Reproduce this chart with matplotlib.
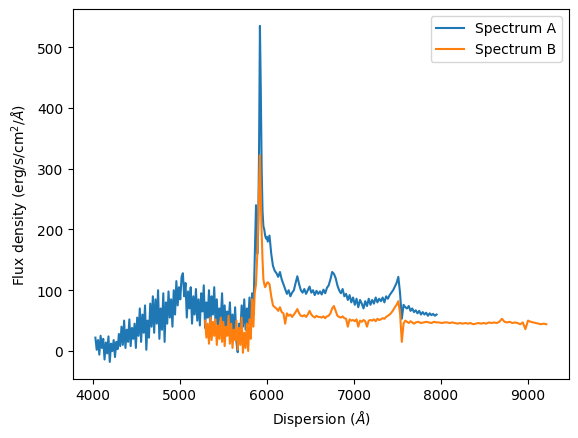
import numpy as np
import matplotlib
matplotlib.use("Agg")
import matplotlib.pyplot as plt

# ---- Spectrum A ----
a1_wave = np.arange(4030, 5891, 15)
a1_flux = [22, 2, 18, -6, 25,
           5, 20, -14, 14, -4,
           24, -18, 12, 0, 18,
           -10, 15, 3, 28, 8,
           40, 10, 50, 5, 35,
           15, 52, 8, 38, 20,
           45, 5, 55, 25, 70,
           15, 60, 30, 75, 2,
           50, 22, 78, 40, 90,
           30, 85, 45, 100, 20,
           70, 35, 95, 15, 80,
           45, 98, 55, 85, 40,
           100, 60, 115, 75, 105,
           85, 122, 128, 90, 112,
           55, 98, 70, 105, 45,
           90, 60, 102, 50, 85,
           42, 95, 65, 108, 38,
           80, 55, 100, 35, 90,
           60, 105, 45, 85, 32,
           70, 50, 95, 40, 75,
           28, 65, 45, 80, 30,
           60, 25, 72, 15, -2,
           45, 30, 75, 40, 85,
           35, 70, 45, 88, 30,
           95, 60, 150, 240, 160]

a2_wave = np.arange(5900, 6001, 10)
a2_flux = [200, 330, 535, 430, 300, 230, 205, 200, 190, 185, 188]

a3_wave = np.arange(6010, 7951, 20)
a3_flux = [180, 190, 160, 140, 132,
           128, 122, 130, 118, 110,
           102, 94, 100, 90, 96,
           100, 112, 123, 110, 100,
           96, 102, 94, 100, 106,
           96, 100, 92, 99, 94,
           98, 93, 101, 95, 104,
           108, 118, 130, 127, 120,
           108, 100, 95, 102, 90,
           94, 84, 92, 80, 88,
           76, 86, 72, 84, 78,
           70, 82, 74, 86, 76,
           84, 78, 88, 80, 86,
           82, 88, 80, 90, 86,
           92, 96, 100, 106, 112,
           122, 95, 53, 76, 72,
           70, 74, 66, 70, 64,
           67, 62, 66, 60, 64,
           60, 63, 58, 62, 59,
           61, 58, 60]

# ---- Spectrum B ----
b1_wave = np.arange(5290, 5891, 15)
b1_flux = [50, 22, 45, 12, 55,
           18, 48, 25, 52, 10,
           42, 20, 55, 15, 48,
           8, 40, 25, 58, 12,
           45, 5, 35, 18, 50,
           2, 38, 10, 55, -3,
           30, 5, 45, 0, 52,
           20, 85, 40, 95, 110,
           160]

b2_wave = np.arange(5900, 6001, 10)
b2_flux = [210, 270, 322, 250, 195, 150, 118, 110, 105, 108, 112]

b3_wave = np.arange(6010, 7691, 20)
b3_flux = [113, 110, 90, 75, 72,
           70, 66, 72, 64, 62,
           45, 62, 58, 60, 56,
           60, 64, 69, 62, 58,
           57, 59, 56, 60, 66,
           60, 57, 55, 58, 56,
           56, 55, 57, 54, 57,
           58, 62, 70, 74, 66,
           58, 56, 55, 57, 54,
           53, 40, 52, 50, 51,
           49, 52, 40, 50, 48,
           51, 49, 40, 50, 51,
           50, 52, 49, 53, 51,
           52, 54, 53, 56, 58,
           60, 63, 67, 72, 76,
           82, 62, 15, 45, 50,
           48, 46, 49, 47, 45]

b4_wave = np.arange(7710, 9211, 30)
b4_flux = [47, 48, 46, 47, 48,
           47, 46, 48, 47, 47,
           46, 47, 47, 46, 47,
           46, 45, 46, 45, 46,
           45, 46, 44, 45, 46,
           45, 46, 45, 47, 46,
           47, 46, 48, 53, 48,
           47, 48, 46, 47, 46,
           44, 47, 36, 50, 48,
           47, 46, 45, 44, 45,
           44]

wave_a = np.concatenate([a1_wave, a2_wave, a3_wave])
flux_a = np.concatenate([a1_flux, a2_flux, a3_flux])
wave_b = np.concatenate([b1_wave, b2_wave, b3_wave, b4_wave])
flux_b = np.concatenate([b1_flux, b2_flux, b3_flux, b4_flux])

fig, ax = plt.subplots(figsize=(6.4, 4.8), dpi=100)
ax.plot(wave_a, flux_a, label="Spectrum A")
ax.plot(wave_b, flux_b, label="Spectrum B")
ax.set_xlabel(r"Dispersion ($\AA$)")
ax.set_ylabel(r"Flux density (erg/s/cm$^2$/$\AA$)")
ax.legend(loc="upper right")
fig.savefig("out.png", dpi=100, bbox_inches="tight")
